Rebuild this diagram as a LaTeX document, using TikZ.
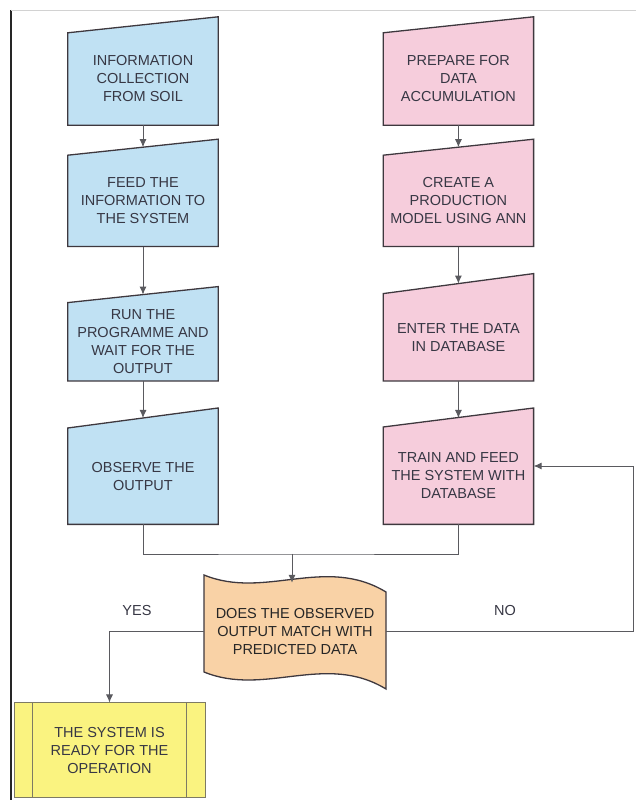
\documentclass[tikz,border=0pt]{standalone}
\usepackage{fontspec}
\setmainfont{Liberation Sans}
\usepackage{tikz}
\usetikzlibrary{positioning,arrows.meta,backgrounds}

\begin{document}
\begin{tikzpicture}[x=1pt, y=1pt, >={Latex[length=8pt,width=7pt]}, every node/.style={align=center}]
    % colours of the chart
    \definecolor{blueA}{RGB}{192,225,243}   % left column
    \definecolor{pinkA}{RGB}{246,205,220}   % right column
    \definecolor{tapeA}{RGB}{249,210,166}   % decision
    \definecolor{yellowA}{RGB}{250,243,128} % end box
    \definecolor{edgecol}{RGB}{62,56,62}
    \definecolor{linkcol}{RGB}{90,90,95}
    \definecolor{endedge}{RGB}{125,122,100}
    \definecolor{textcol}{RGB}{55,55,68}

    % node styles
    \tikzstyle{manual} = [rectangle, draw=none, minimum width=150pt, inner sep=2pt, font=\fontsize{14.5}{18}\selectfont, text=textcol]
    \tikzstyle{boxline} = [draw=edgecol, line width=1.3pt]
    \tikzstyle{endline} = [draw=endedge, line width=1pt]
    \tikzstyle{link} = [draw=linkcol, line width=0.9pt]
    \tikzstyle{answer} = [font=\fontsize{14.5}{18}\selectfont, text=textcol]

    \useasboundingbox (0,0) rectangle (636,800);

    % frame
    \draw[black!85, line width=1.6pt] (11,790) -- (11,0);
    \draw[gray!35, line width=0.8pt] (11,790) -- (636,790);

    % left column
    \node[manual, minimum height=92pt] (b1) at (143,721) {INFORMATION\\COLLECTION\\FROM SOIL};
    \node[manual, minimum height=91pt, below=30pt of b1] (b2) {FEED THE\\INFORMATION TO\\THE SYSTEM};
    \node[manual, minimum height=78pt, below=56pt of b2] (b3) {RUN THE\\PROGRAMME AND\\WAIT FOR THE\\OUTPUT};
    \node[manual, minimum height=96pt, below=47pt of b3] (b4) {OBSERVE THE\\OUTPUT};

    % right column
    \node[manual, minimum height=92pt, right=165pt of b1] (p1) {PREPARE FOR\\DATA\\ACCUMULATION};
    \node[manual, minimum height=91pt, below=30pt of p1] (p2) {CREATE A\\PRODUCTION\\MODEL USING ANN};
    \node[manual, minimum height=87pt, below=47pt of p2] (p3) {ENTER THE DATA\\IN DATABASE};
    \node[manual, minimum height=97pt, below=46pt of p3] (p4) {TRAIN AND FEED\\THE SYSTEM WITH\\DATABASE};

    % decision and end
    \node[manual, minimum width=182pt, minimum height=97pt, text=black!85] (dec) at (295,168.5) {DOES THE OBSERVED\\OUTPUT MATCH WITH\\PREDICTED DATA};
    \node[manual, minimum width=191pt, minimum height=95pt, fill=yellowA, endline] (ok) at (109.5,49.5) {THE SYSTEM IS\\READY FOR THE\\OPERATION};
    \draw[endline] ([xshift=19pt]ok.north west) -- ([xshift=19pt]ok.south west);
    \draw[endline] ([xshift=-19pt]ok.north east) -- ([xshift=-19pt]ok.south east);

    % shapes behind the texts
    \begin{scope}[on background layer]
      \foreach \n/\c/\s in {b1/blueA/16, b2/blueA/16, b3/blueA/16, b4/blueA/20, p1/pinkA/16, p2/pinkA/16, p3/pinkA/20, p4/pinkA/19}
        \filldraw[boxline, fill=\c] (\n.south west) -- (\n.south east) -- ([yshift=\s pt]\n.north east) -- (\n.north west) -- cycle;
      \filldraw[boxline, fill=tapeA, shift={(dec.center)}] (-91,56.5) .. controls (-30,31.5) and (30,76.5) .. (91,39.5)
        -- (91,-57.5) .. controls (30,-20.5) and (-30,-65.5) .. (-91,-40.5) -- cycle;
    \end{scope}

    % arrows
    \draw[link, ->] (b1) -- ([yshift=8pt]b2.north);
    \draw[link, ->] (b2) -- ([yshift=8pt]b3.north);
    \draw[link, ->] (b3) -- ([yshift=10pt]b4.north);
    \draw[link, ->] (p1) -- ([yshift=8pt]p2.north);
    \draw[link, ->] (p2) -- ([yshift=10pt]p3.north);
    \draw[link, ->] (p3) -- ([yshift=9pt]p4.north);

    \coordinate (join) at (292,246);
    \draw[link] (b4.south) |- (join) -| (p4.south);
    \draw[link, ->] (join) -- (join |- dec.north);

    \draw[link, ->] (dec.west) -| (ok.north);
    \coordinate (back) at (633,334);
    \draw[link, ->] (dec.east) -| (back) -- (back -| p4.east);

    \node[answer] (yes) at (137,189) {YES};
    \node[answer] (no) at (505,189) {NO};
  \end{tikzpicture}
\end{document}
